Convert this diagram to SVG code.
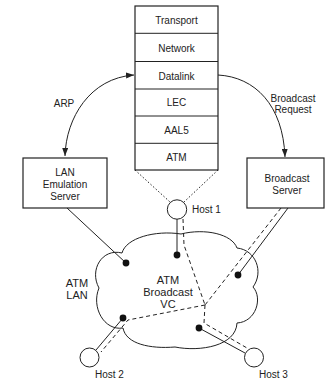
<svg xmlns="http://www.w3.org/2000/svg" width="325" height="380" viewBox="0 0 325 380">
<style>
text{font-family:"Liberation Sans",Arial,sans-serif;font-size:10px;fill:#222;text-anchor:middle}
.big{font-size:11px}
.box{fill:#fff;stroke:#222;stroke-width:1.2}
.ln{fill:none;stroke:#222;stroke-width:1}
.dash{fill:none;stroke:#222;stroke-width:1;stroke-dasharray:4,3}
.dot{fill:none;stroke:#222;stroke-width:1;stroke-dasharray:1.5,2}
.host{fill:#fff;stroke:#222;stroke-width:1}
.pt{fill:#111}
</style>
<defs>
<marker id="ah" viewBox="0 0 8 6" refX="8" refY="3" markerWidth="8" markerHeight="6" orient="auto-start-reverse" markerUnits="userSpaceOnUse">
<path d="M0,0 L8,3 L0,6 Z" fill="#222"/>
</marker>
</defs>

<g id="stack">
<rect class="box" x="135" y="6" width="83" height="164"/>
<line class="ln" stroke-width="1.2" x1="135" y1="33.3" x2="218" y2="33.3"/>
<line class="ln" stroke-width="1.2" x1="135" y1="61.5" x2="218" y2="61.5"/>
<line class="ln" stroke-width="1.2" x1="135" y1="89" x2="218" y2="89"/>
<line class="ln" stroke-width="1.2" x1="135" y1="116" x2="218" y2="116"/>
<line class="ln" stroke-width="1.2" x1="135" y1="143.3" x2="218" y2="143.3"/>
<text x="176.5" y="24">Transport</text>
<text x="176.5" y="52">Network</text>
<text x="176.5" y="79.5">Datalink</text>
<text x="176.5" y="106">LEC</text>
<text x="176.5" y="133.5">AAL5</text>
<text x="176.5" y="161">ATM</text>
</g>

<g id="les">
<rect class="box" x="23" y="158" width="84" height="50"/>
<text x="65" y="175.5">LAN</text>
<text x="65" y="187.5">Emulation</text>
<text x="65" y="199.5">Server</text>
</g>

<g id="bs">
<rect class="box" x="247" y="158" width="77" height="50"/>
<text x="287" y="181.5">Broadcast</text>
<text x="287" y="193.5">Server</text>
</g>

<g id="cloud">
<path fill="#fff" stroke="#222" stroke-width="1" d="M122,253 C126,238 155,230 181,234 C205,228 232,234 237,248 C256,250 264,272 253,287 C263,298 256,322 237,323 C236,346 200,352 175,347 C150,349 126,344 123,328 C104,331 91,307 99,288 C89,270 102,248 122,253 Z"/>
<text class="big" x="168" y="284">ATM</text>
<text class="big" x="168" y="296">Broadcast</text>
<text class="big" x="168" y="307.5">VC</text>
<text class="big" x="77" y="287">ATM</text>
<text class="big" x="77" y="299">LAN</text>
</g>

<g id="connectors">
<path class="ln" d="M65,156 C66,118 90,78 134,75" marker-start="url(#ah)" marker-end="url(#ah)"/>
<path class="ln" d="M218,75 C255,77 283,105 285,157" marker-end="url(#ah)"/>
<line class="dot" x1="135" y1="170" x2="170" y2="202"/>
<line class="dot" x1="218" y1="170" x2="184" y2="202"/>
<line class="ln" x1="67" y1="208" x2="126" y2="263"/>
<line class="ln" x1="288" y1="208" x2="238" y2="275"/>
<line class="ln" stroke="#777" stroke-width="1.5" x1="177" y1="219" x2="177" y2="255"/>
<line class="ln" x1="123" y1="318" x2="96" y2="350"/>
<line class="ln" x1="199" y1="328" x2="245" y2="353"/>
<polyline class="dash" points="183,219 184,245 205,305"/>
<line class="dash" x1="281" y1="208" x2="205" y2="305"/>
<polyline class="dash" points="205,305 128,320 101,352"/>
<polyline class="dash" points="205,305 204,323 247,348"/>
</g>

<g id="points">
<circle class="pt" cx="126" cy="263" r="3.4"/>
<circle class="pt" cx="177" cy="255" r="3.4"/>
<circle class="pt" cx="238" cy="275" r="3.4"/>
<circle class="pt" cx="123" cy="318" r="3.4"/>
<circle class="pt" cx="199" cy="328" r="3.4"/>
</g>

<g id="host1">
<circle class="host" cx="177" cy="209.5" r="9.7"/>
<text x="192" y="213" style="text-anchor:start">Host 1</text>
</g>
<g id="host2">
<circle class="host" cx="89.5" cy="357.5" r="9.5"/>
<text x="95" y="378" style="text-anchor:start">Host 2</text>
</g>
<g id="host3">
<circle class="host" cx="254" cy="357.5" r="9.5"/>
<text x="259" y="378" style="text-anchor:start">Host 3</text>
</g>

<g id="labels">
<text x="64" y="106.5">ARP</text>
<text x="293" y="101.5">Broadcast</text>
<text x="293" y="113">Request</text>
</g>
</svg>
